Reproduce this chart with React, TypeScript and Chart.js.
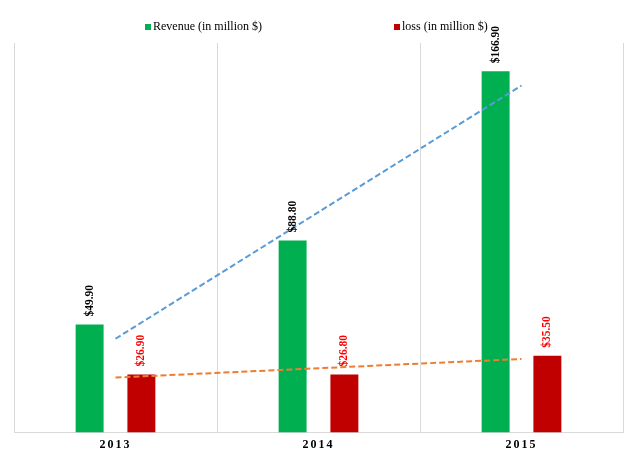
import React, { useEffect, useRef } from "react";
import { Chart, registerables } from "chart.js";

Chart.register(...registerables);

const categories = ["2013", "2014", "2015"];
const revenue = [49.9, 88.8, 166.9];
const loss = [26.9, 26.8, 35.5];
const seriesNames = ["Revenue (in million $)", "loss (in million $)"];
const yMax = 180;

function linearTrend(values: number[]): number[] {
  const n = values.length;
  const xs = values.map((_, i) => i);
  const mx = xs.reduce((a, b) => a + b, 0) / n;
  const my = values.reduce((a, b) => a + b, 0) / n;
  let num = 0;
  let den = 0;
  xs.forEach((x, i) => {
    num += (x - mx) * (values[i] - my);
    den += (x - mx) * (x - mx);
  });
  const slope = num / den;
  return xs.map((x) => my + slope * (x - mx));
}

const SERIF = '"Liberation Serif", "Times New Roman", serif';

const labelPlugin = {
  id: "barLabels",
  afterDatasetsDraw(chart: any) {
    const ctx = chart.ctx;
    chart.data.datasets.forEach((ds: any, di: number) => {
      if (ds.type === "line") return;
      const meta = chart.getDatasetMeta(di);
      meta.data.forEach((el: any, i: number) => {
        const v = ds.data[i];
        ctx.save();
        ctx.translate(el.x, el.y - 8);
        ctx.rotate(-Math.PI / 2);
        ctx.font = "bold 11.5px " + SERIF;
        ctx.fillStyle = ds.labelColor;
        ctx.textAlign = "left";
        ctx.textBaseline = "middle";
        ctx.fillText("$" + v.toFixed(2), 0, 0);
        ctx.restore();
      });
    });
  },
};

const legendPlugin = {
  id: "customLegend",
  afterDraw(chart: any) {
    const ctx = chart.ctx;
    const items = [
      { text: seriesNames[0], color: "#00B050", x: 145 },
      { text: seriesNames[1], color: "#C00000", x: 394 },
    ];
    ctx.save();
    ctx.font = "12px " + SERIF;
    ctx.textBaseline = "middle";
    ctx.textAlign = "left";
    items.forEach((it) => {
      ctx.fillStyle = it.color;
      ctx.fillRect(it.x, 24, 6, 6);
      ctx.fillStyle = "#000";
      ctx.fillText(it.text, it.x + 8, 27);
    });
    ctx.restore();
  },
};

const spacingPlugin = {
  id: "letterSpacing",
  beforeDraw(chart: any) {
    (chart.ctx as any).letterSpacing = "2px";
  },
  beforeDatasetsDraw(chart: any) {
    (chart.ctx as any).letterSpacing = "0px";
  },
};

export default function App() {
  const ref = useRef<HTMLCanvasElement>(null);
  useEffect(() => {
    if (!ref.current) return;
    const chart = new Chart(ref.current, {
      type: "bar",
      data: {
        labels: categories,
        datasets: [
          {
            type: "bar",
            label: seriesNames[0],
            data: revenue,
            backgroundColor: "#00B050",
            labelColor: "#000000",
            categoryPercentage: 0.51,
            barPercentage: 0.54,
            order: 2,
          } as any,
          {
            type: "bar",
            label: seriesNames[1],
            data: loss,
            backgroundColor: "#C00000",
            labelColor: "#FF0000",
            categoryPercentage: 0.51,
            barPercentage: 0.54,
            order: 2,
          } as any,
          {
            type: "line",
            label: "Linear (Revenue)",
            data: linearTrend(revenue),
            borderColor: "#5B9BD5",
            borderWidth: 2,
            borderDash: [6, 3],
            pointRadius: 0,
            fill: false,
            order: 1,
          } as any,
          {
            type: "line",
            label: "Linear (loss)",
            data: linearTrend(loss),
            borderColor: "#ED7D31",
            borderWidth: 2,
            borderDash: [6, 3],
            pointRadius: 0,
            fill: false,
            order: 1,
          } as any,
        ],
      },
      options: {
        animation: false,
        responsive: false,
        maintainAspectRatio: false,
        layout: { padding: { left: 14, right: 15, top: 43, bottom: 2 } },
        plugins: {
          legend: { display: false },
          tooltip: { enabled: false },
        },
        scales: {
          x: {
            grid: {
              color: "#D9D9D9",
              lineWidth: 1,
              drawTicks: false,
            },
            border: { color: "#D9D9D9", width: 1 },
            ticks: {
              color: "#000",
              padding: 5,
              font: { family: SERIF, size: 12, weight: "bold" },
            },
          },
          y: {
            display: false,
            min: 0,
            max: yMax,
          },
        },
      },
      plugins: [spacingPlugin, labelPlugin, legendPlugin],
    });
    return () => chart.destroy();
  }, []);
  return (
    <div style={{ position: "fixed", left: 0, top: 0, width: 638, height: 459, background: "#fff" }}>
      <canvas ref={ref} width={638} height={459} style={{ width: 638, height: 459 }} />
    </div>
  );
}
